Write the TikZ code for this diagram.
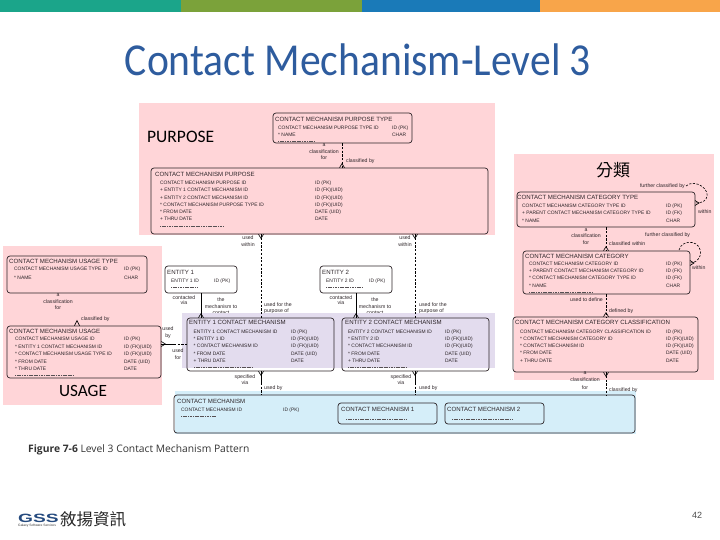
\documentclass[tikz,border=0pt]{standalone}
\usepackage{fontspec}
\setmainfont{Liberation Sans}
\newfontfamily\calfont{Carlito}
\newfontfamily\capfont{Open Sans}
\newfontfamily\cjkfont{Noto Sans CJK TC}
\usetikzlibrary{calc}
\definecolor{pinkbg}{HTML}{FFD5D8}
\definecolor{lavbg}{HTML}{E3DCEE}
\definecolor{bluebg}{HTML}{D5EEF9}
\definecolor{inkc}{HTML}{2C2428}
\definecolor{titleblue}{HTML}{2E5C9E}
\newcounter{lbl}
\tikzset{
  erbox/.style={draw=inkc,line width=.7pt,rounded corners=3pt,inner sep=0pt},
  txt/.style={inner sep=0pt,text=inkc,font=\fontsize{4.9}{5.5}\selectfont},
  hdtxt/.style={inner sep=0pt,text=inkc,font=\fontsize{6.1}{6.5}\selectfont},
  lab/.style={inner sep=0pt,text=inkc,font=\fontsize{5.2}{5.5}\selectfont,align=center},
  big/.style={inner sep=0pt,text=black},
  conn/.style={draw=black,line width=.6pt},
  dconn/.style={draw=black,line width=.6pt,dash pattern=on 2.2pt off 1.5pt},
  attrdash/.style={draw=inkc!80,line width=.35pt,dash pattern=on 1.2pt off .5pt},
}
\newcommand\ebox[5]{\node[erbox,minimum width={(#4-#2)*1pt},minimum height={(#5-#3)*1pt}] (#1) at ({(#2+#4)/2},{(#3+#5)/2}) {};}
\newcommand\hdt[3]{\stepcounter{lbl}\node[hdtxt,anchor=west] (t\arabic{lbl}) at (#1,#2) {#3};}
\newcommand\tx[3]{\stepcounter{lbl}\node[txt,anchor=west] (t\arabic{lbl}) at (#1,#2) {#3};}
\newcommand\labc[3]{\stepcounter{lbl}\node[lab] (t\arabic{lbl}) at (#1,#2) {#3};}
\newcommand\labw[3]{\stepcounter{lbl}\node[lab,anchor=west] (t\arabic{lbl}) at (#1,#2) {#3};}
\newcommand\labe[3]{\stepcounter{lbl}\node[lab,anchor=east] (t\arabic{lbl}) at (#1,#2) {#3};}
\newcommand\attrd[3]{\draw[attrdash] (#1,#3) -- (#2,#3);}
\newcommand\crowv[2]{\draw[conn] (#1) ++(-2.5,0) -- ++(2.5,#2) -- ++(2.5,-#2);}
\newcommand\crowh[2]{\draw[conn] (#1) ++(0,-2.5) -- ++(#2,2.5) -- ++(-#2,2.5);}
\begin{document}
\begin{tikzpicture}[x=1pt,y=-1pt]
\useasboundingbox (0,0) rectangle (720,540);
% top bar
\fill[fill={rgb,255:red,27;green,165;blue,138}] (0,0) rectangle (181,12);
\fill[fill={rgb,255:red,123;green,162;blue,58}] (181,0) rectangle (362,12);
\fill[fill={rgb,255:red,26;green,122;blue,184}] (362,0) rectangle (540,12);
\fill[fill={rgb,255:red,248;green,165;blue,74}] (540,0) rectangle (720,12);
\node[inner sep=0pt,text=titleblue,font=\calfont\fontsize{41.6}{44}\selectfont] (title) at (358,60) {\scalebox{1}[1.1]{Contact Mechanism-Level 3}};
% backgrounds
\fill[pinkbg] (139,103) rectangle (495,235);
\fill[pinkbg] (514,154) rectangle (714,380);
\fill[pinkbg] (3,246) rectangle (162,405);
% labels partly hidden by the lavender band
\labc{221}{300}{the}\labc{221}{307}{mechanism to}\labc{221}{312.5}{contact}
\labw{264}{305}{used for the}\labw{264}{311.5}{purpose of}
\labc{375}{300}{the}\labc{375}{307}{mechanism to}\labc{375}{312.5}{contact}
\labw{419}{305}{used for the}\labw{419}{311.5}{purpose of}
\fill[lavbg] (182,312.5) rectangle (495,368);
\fill[bluebg] (175,391) rectangle (636,434);
% big labels
\node[big,anchor=west,font=\calfont\fontsize{17.5}{18}\selectfont] (purp) at (147,137) {PURPOSE};
\node[big,font=\cjkfont\fontsize{17}{18}\selectfont] (fenlei) at (613,170) {分類};
\node[big,font=\calfont\fontsize{17.2}{18}\selectfont] (usagel) at (83,391) {USAGE};
% boxes
\ebox{cmpt}{273}{113}{412}{143}
\ebox{cmp}{151}{168}{488}{234}
\ebox{cct}{517}{192}{695}{227}
\ebox{cc}{523}{251}{690}{294}
\ebox{ccc}{513}{317}{698}{372}
\ebox{ut}{7}{256}{147}{293}
\ebox{us}{7}{326}{161}{378}
\ebox{e1}{165}{266}{237}{293}
\ebox{e1cm}{187}{318}{334}{371}
\ebox{e2}{320}{266}{392}{293}
\ebox{e2cm}{342}{318}{489}{371}
\ebox{cm}{174}{395}{635}{433}
\ebox{cm1}{338}{403}{437}{424}
\ebox{cm2}{445}{403}{544}{424}
\coordinate (va) at (261,0);
\coordinate (vb) at (415,0);
\coordinate (vc) at (342,0);
\coordinate (vd) at (606,0);
\coordinate (ve) at (201,0);
\coordinate (vf) at (356,0);
\coordinate (vg) at (77,0);
\coordinate (ha) at (0,344);
% connectors
\draw[dconn] (cmpt.south -| vc) -- (cmp.north -| vc);
\crowv{cmp.north -| vc}{-4}
\draw[dconn] (cmp.south -| va) -- (e1cm.north -| va);
\crowv{cmp.south -| va}{4}
\draw[dconn] (cmp.south -| vb) -- (e2cm.north -| vb);
\crowv{cmp.south -| vb}{4}
\draw[conn] (e1.south -| ve) -- (e1cm.north -| ve);
\crowv{e1cm.north -| ve}{-4}
\draw[conn] (e2.south -| vf) -- (e2cm.north -| vf);
\crowv{e2cm.north -| vf}{-4}
\coordinate (hm) at (174,344);
\draw[conn] (us.east |- ha) -- (hm);
\draw[dconn] (hm) -- (e1cm.west |- ha);
\crowh{us.east |- ha}{4}
\coordinate (m1) at (261,383);
\draw[conn] (e1cm.south -| va) -- (m1);
\draw[dconn] (m1) -- (cm.north -| va);
\crowv{e1cm.south -| va}{4}
\coordinate (m2) at (415,383);
\draw[conn] (e2cm.south -| vb) -- (m2);
\draw[dconn] (m2) -- (cm.north -| vb);
\crowv{e2cm.south -| vb}{4}
\draw[dconn] (ccc.south -| vd) -- (cm.north -| vd);
\crowv{ccc.south -| vd}{4}
\draw[dconn] (cct.south -| vd) -- (cc.north -| vd);
\crowv{cc.north -| vd}{-4}
\draw[dconn] (cc.south -| vd) -- (ccc.north -| vd);
\crowv{ccc.north -| vd}{-4}
\crowv{us.north -| vg}{-5}
% self loops
\coordinate (la) at (686,186);
\coordinate (lb) at (695,203);
\draw[dconn] (la) .. controls (695,178) and (712,190) .. (706,199) .. controls (704,202) and (700,203) .. (lb);
\crowh{lb}{4}
\coordinate (lc) at (679,250);
\coordinate (ld) at (690,263);
\draw[dconn] (lc) .. controls (682,238) and (704,240) .. (700,256) .. controls (698,261) and (694,263) .. (ld);
\crowh{ld}{4}
% CMPT
\hdt{275}{119}{CONTACT MECHANISM PURPOSE TYPE}
\tx{278}{128}{CONTACT MECHANISM PURPOSE TYPE ID}\tx{392}{128}{ID (PK)}
\tx{278}{135}{* NAME}\tx{392}{135}{CHAR}
\attrd{278}{315}{141}
% CMP
\hdt{155}{174}{CONTACT MECHANISM PURPOSE}
\tx{160}{183}{CONTACT MECHANISM PURPOSE ID}\tx{315}{183}{ID (PK)}
\tx{160}{190}{+ ENTITY 1 CONTACT MECHANISM ID}\tx{315}{190}{ID (FK)(UID)}
\tx{160}{198}{+ ENTITY 2 CONTACT MECHANISM ID}\tx{315}{198}{ID (FK)(UID)}
\tx{160}{205}{* CONTACT MECHANISM PURPOSE TYPE ID}\tx{315}{205}{ID (FK)(UID)}
\tx{160}{212}{* FROM DATE}\tx{315}{212}{DATE (UID)}
\tx{160}{219}{+ THRU DATE}\tx{315}{219}{DATE}
\attrd{160}{224}{226}
\labc{324}{145}{a}\labc{324}{152}{classification}\labc{324}{158}{for}
\labw{346}{161}{classified by}
% category type
\hdt{517}{197}{CONTACT MECHANISM CATEGORY TYPE}
\tx{522}{206}{CONTACT MECHANISM CATEGORY TYPE ID}\tx{666}{206}{ID (PK)}
\tx{522}{213}{+ PARENT CONTACT MECHANISM CATEGORY TYPE ID}\tx{666}{213}{ID (FK)}
\tx{522}{221}{* NAME}\tx{666}{221}{CHAR}
\labe{685}{186}{further classified by}
\labw{698}{212}{within}
\labc{586}{230}{a}\labc{586}{236}{classification}\labc{586}{243}{for}
\labw{609}{244}{classified within}
\labw{645}{235}{further classified by}
% category
\hdt{525}{256}{CONTACT MECHANISM CATEGORY}
\tx{529}{264}{CONTACT MECHANISM CATEGORY ID}\tx{666}{264}{ID (PK)}
\tx{529}{271}{+ PARENT CONTACT MECHANISM CATEGORY ID}\tx{666}{271}{ID (FK)}
\tx{529}{278}{* CONTACT MECHANISM CATEGORY TYPE ID}\tx{666}{278}{ID (FK)}
\tx{529}{286}{* NAME}\tx{666}{286}{CHAR}
\attrd{529}{593}{292}
\labw{692}{268}{within}
\labe{603}{300}{used to define}
\labw{609}{311}{defined by}
% classification
\hdt{515}{322}{CONTACT MECHANISM CATEGORY CLASSIFICATION}
\tx{520}{332}{CONTACT MECHANISM CATEGORY CLASSIFICATION ID}\tx{666}{332}{ID (PK)}
\tx{520}{339}{* CONTACT MECHANISM CATEGORY ID}\tx{666}{339}{ID (FK)(UID)}
\tx{520}{346}{* CONTACT MECHANISM ID}\tx{666}{346}{ID (FK)(UID)}
\tx{520}{353}{* FROM DATE}\tx{666}{353}{DATE (UID)}
\tx{520}{361}{+ THRU DATE}\tx{666}{361}{DATE}
\labc{585}{373}{a}\labc{585}{380}{classification}\labc{585}{388}{for}
\labw{609}{390}{classified by}
% usage type
\hdt{9}{261}{CONTACT MECHANISM USAGE TYPE}
\tx{14}{269}{CONTACT MECHANISM USAGE TYPE ID}\tx{124}{269}{ID (PK)}
\tx{14}{278}{* NAME}\tx{124}{278}{CHAR}
\labc{58}{295}{a}\labc{58}{302}{classification}\labc{58}{308}{for}
\labw{81}{319}{classified by}
% usage
\hdt{9}{331}{CONTACT MECHANISM USAGE}
\tx{15}{339}{CONTACT MECHANISM USAGE ID}\tx{124}{339}{ID (PK)}
\tx{15}{347}{* ENTITY 1 CONTACT MECHANISM ID}\tx{124}{347}{ID (FK)(UID)}
\tx{15}{354}{* CONTACT MECHANISM USAGE TYPE ID}\tx{124}{354}{ID (FK)(UID)}
\tx{15}{362}{* FROM DATE}\tx{124}{362}{DATE (UID)}
\tx{15}{369}{* THRU DATE}\tx{124}{369}{DATE}
\attrd{15}{74}{375}
% entity 1
\hdt{167}{272}{ENTITY 1}
\tx{171}{281}{ENTITY 1 ID}\tx{214}{281}{ID (PK)}
\attrd{171}{198}{287}
\labc{184}{298}{contacted}\labc{184}{303}{via}
\labc{248}{238}{used}\labc{248}{245}{within}
\labc{168}{329}{used}\labc{168}{336}{by}
\labc{178}{351}{used}\labc{178}{358}{for}
% entity 1 cm
\hdt{189}{322.5}{ENTITY 1 CONTACT MECHANISM}
\tx{193.5}{332}{ENTITY 1 CONTACT MECHANISM ID}\tx{291}{332}{ID (PK)}
\tx{193.5}{339}{* ENTITY 1 ID}\tx{291}{339}{ID (FK)(UID)}
\tx{193.5}{346}{* CONTACT MECHANISM ID}\tx{291}{346}{ID (FK)(UID)}
\tx{193.5}{354}{* FROM DATE}\tx{291}{354}{DATE (UID)}
\tx{193.5}{361}{+ THRU DATE}\tx{291}{361}{DATE}
\attrd{194}{252}{367}
\labc{245}{377}{specified}\labc{245}{382.5}{via}
\labw{264}{388}{used by}
% entity 2
\hdt{322}{272}{ENTITY 2}
\tx{326}{281}{ENTITY 2 ID}\tx{369}{281}{ID (PK)}
\attrd{326}{362}{287}
\labc{341}{298}{contacted}\labc{341}{303}{via}
\labc{405}{238}{used}\labc{405}{245}{within}
% entity 2 cm
\hdt{345}{322.5}{ENTITY 2 CONTACT MECHANISM}
\tx{348}{332}{ENTITY 2 CONTACT MECHANISM ID}\tx{445}{332}{ID (PK)}
\tx{348}{339}{* ENTITY 2 ID}\tx{445}{339}{ID (FK)(UID)}
\tx{348}{346}{* CONTACT MECHANISM ID}\tx{445}{346}{ID (FK)(UID)}
\tx{348}{354}{* FROM DATE}\tx{445}{354}{DATE (UID)}
\tx{348}{361}{+ THRU DATE}\tx{445}{361}{DATE}
\attrd{348}{406}{367}
\labc{401}{377}{specified}\labc{401}{382.5}{via}
\labw{419}{388}{used by}
% contact mechanism
\hdt{177}{401}{CONTACT MECHANISM}
\tx{181}{410}{CONTACT MECHANISM ID}\tx{283}{410}{ID (PK)}
\attrd{181}{216}{416}
\hdt{341}{409}{CONTACT MECHANISM 1}
\attrd{346}{407}{419}
\hdt{447}{409}{CONTACT MECHANISM 2}
\attrd{452}{513}{419}
% caption
\node[anchor=west,inner sep=0pt,text=black!80,font=\capfont\fontsize{10.3}{12}\selectfont] (capt) at (28,450) {\textbf{Figure 7-6} Level 3 Contact Mechanism Pattern};
% logo
\node[anchor=west,inner sep=0pt,text=titleblue!80!black,font=\bfseries\fontsize{12}{12}\selectfont] (gss) at (18,518) {\scalebox{1.6}[1]{GSS}};
\node[anchor=west,inner sep=0pt,text=black!80,font=\fontsize{3.3}{3.5}\selectfont] (gsss) at (18,525.5) {Galaxy Software Services};
\node[anchor=west,inner sep=0pt,text=black!85,font=\cjkfont\fontsize{16.5}{17}\selectfont] (gssc) at (60,519) {敘揚資訊};
\node[anchor=west,inner sep=0pt,text=black!70,font=\fontsize{9}{10}\selectfont] (pg) at (692,515) {42};
\end{tikzpicture}
\end{document}
